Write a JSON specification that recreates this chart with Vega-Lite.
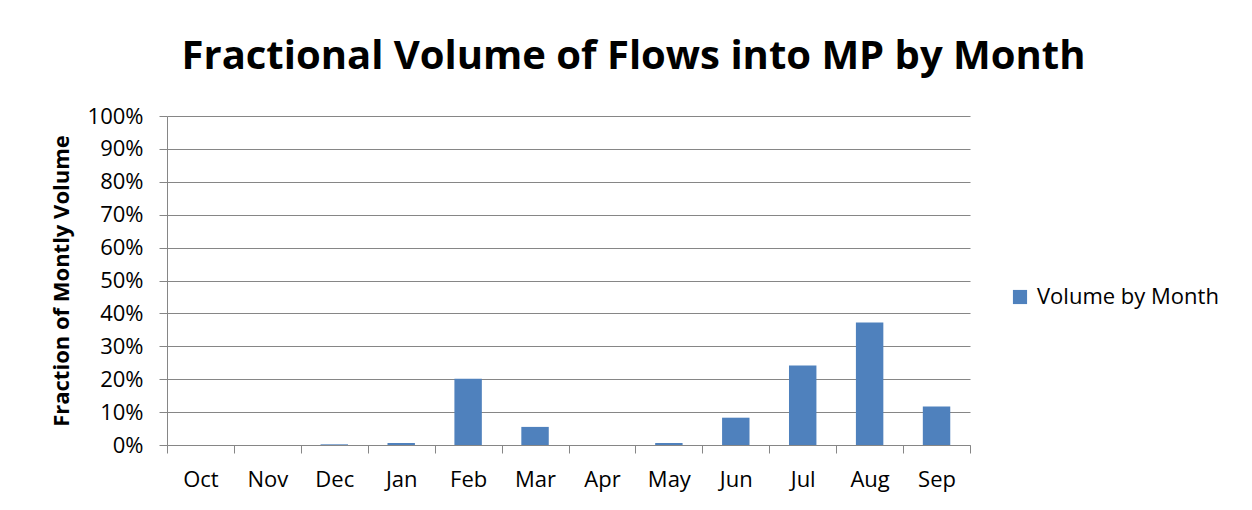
{
  "$schema": "https://vega.github.io/schema/vega-lite/v6.json",
  "width": 803,
  "height": 329,
  "autosize": {"type": "none"},
  "padding": {"left": 167, "top": 116, "right": 282, "bottom": 65},
  "background": "white",
  "title": {
    "text": "Fractional Volume of Flows into MP by Month",
    "font": "Open Sans",
    "fontWeight": "bold",
    "fontSize": 40,
    "color": "#000000",
    "anchor": "middle",
    "dx": 65,
    "offset": 28
  },
  "data": {
    "values": [
      {"month": "Oct", "value": 0, "series": "Volume by Month"},
      {"month": "Nov", "value": 0, "series": "Volume by Month"},
      {"month": "Dec", "value": 0.002, "series": "Volume by Month"},
      {"month": "Jan", "value": 0.006, "series": "Volume by Month"},
      {"month": "Feb", "value": 0.201, "series": "Volume by Month"},
      {"month": "Mar", "value": 0.055, "series": "Volume by Month"},
      {"month": "Apr", "value": 0, "series": "Volume by Month"},
      {"month": "May", "value": 0.006, "series": "Volume by Month"},
      {"month": "Jun", "value": 0.083, "series": "Volume by Month"},
      {"month": "Jul", "value": 0.242, "series": "Volume by Month"},
      {"month": "Aug", "value": 0.372, "series": "Volume by Month"},
      {"month": "Sep", "value": 0.117, "series": "Volume by Month"}
    ]
  },
  "mark": {"type": "bar", "color": "#4F81BD", "width": {"band": 0.41}},
  "encoding": {
    "x": {
      "field": "month",
      "type": "nominal",
      "sort": null,
      "scale": {"paddingInner": 0, "paddingOuter": 0},
      "axis": {
        "title": null,
        "labelAngle": 0,
        "labelFont": "Open Sans",
        "labelFontSize": 22,
        "labelColor": "#000000",
        "labelPadding": 16,
        "tickBand": "extent",
        "tickSize": 8,
        "tickColor": "#868686",
        "domainColor": "#868686",
        "grid": false
      }
    },
    "y": {
      "field": "value",
      "type": "quantitative",
      "scale": {"domain": [0, 1]},
      "axis": {
        "title": "Fraction of Montly Volume",
        "titleFont": "Open Sans",
        "titleFontWeight": "bold",
        "titleFontSize": 22,
        "titleColor": "#000000",
        "titlePadding": 14,
        "format": ".0%",
        "values": [0, 0.1, 0.2, 0.3, 0.4, 0.5, 0.6, 0.7, 0.8, 0.9, 1],
        "labelOverlap": false,
        "labelFlush": false,
        "labelFont": "Open Sans",
        "labelFontSize": 22,
        "labelColor": "#000000",
        "labelPadding": 16,
        "tickSize": 8,
        "tickColor": "#868686",
        "domainColor": "#868686",
        "gridColor": "#868686",
        "gridWidth": 1.2
      }
    },
    "fill": {
      "field": "series",
      "type": "nominal",
      "scale": {"range": ["#4F81BD"]},
      "legend": {
        "title": null,
        "orient": "none",
        "legendX": 842,
        "legendY": 170,
        "symbolType": "square",
        "symbolSize": 200,
        "labelFont": "Open Sans",
        "labelFontSize": 22,
        "labelColor": "#000000",
        "labelOffset": 6,
        "labelLimit": 400
      }
    }
  },
  "config": {"view": {"stroke": null}}
}
